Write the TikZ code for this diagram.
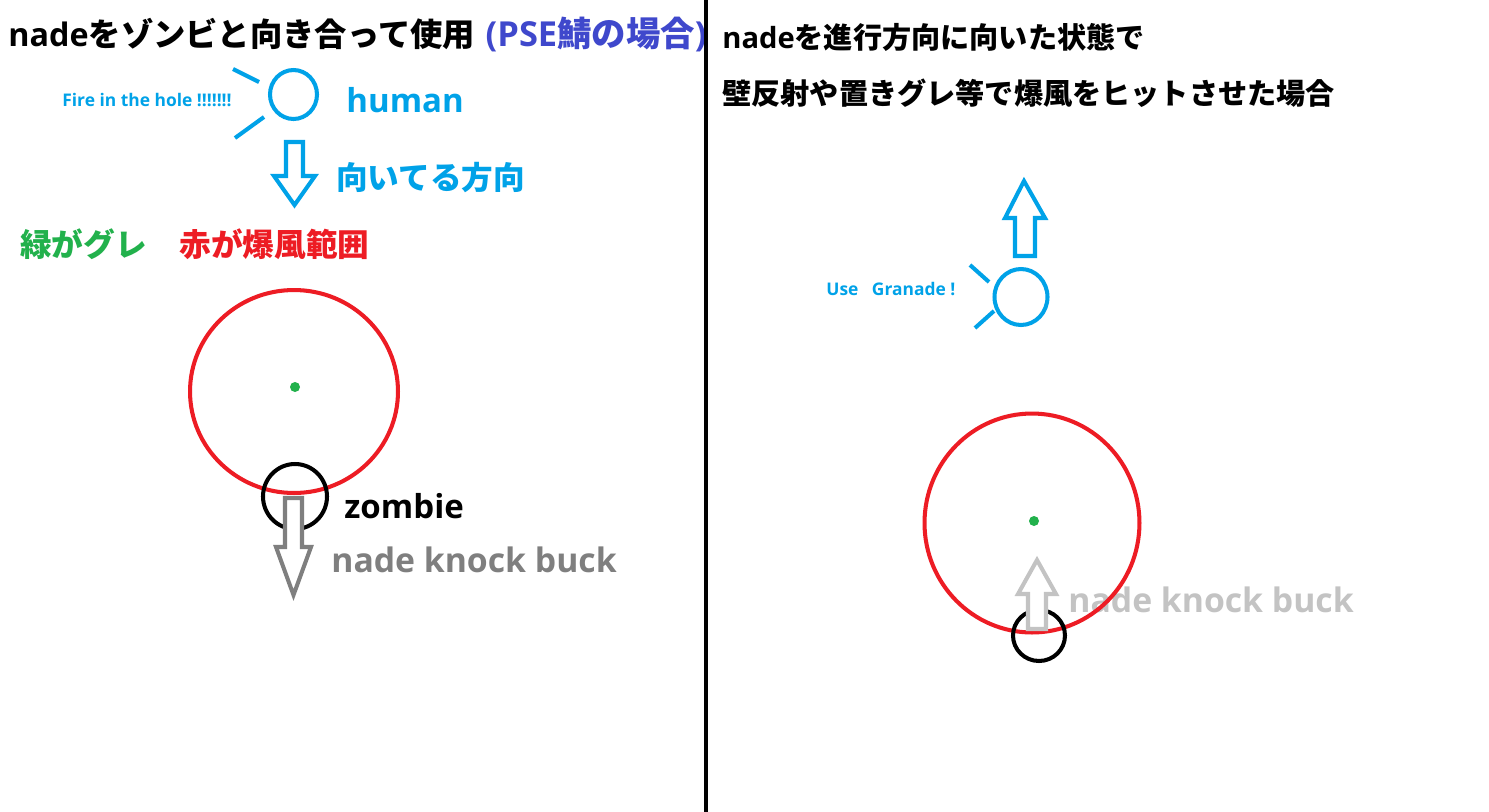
\documentclass[tikz,border=0pt]{standalone}
\usepackage{fontspec}
\setmainfont{Noto Sans CJK JP}
\newfontfamily\latinfont{Open Sans}
\usetikzlibrary{positioning,shapes.geometric}
\definecolor{paintblue}{RGB}{0, 162, 232}
\definecolor{paintred}{RGB}{237, 28, 36}
\definecolor{paintgreen}{RGB}{34, 177, 76}
\definecolor{paintindigo}{RGB}{63, 72, 204}
\definecolor{nadegray}{RGB}{127, 127, 127}
\definecolor{nadesilver}{RGB}{195, 195, 195}

\begin{document}
\begin{tikzpicture}[x=0.02cm, y=-0.02cm,
  heading/.style={anchor=base west, inner sep=0pt, font=\fontsize{18.4}{22}\selectfont\bfseries},
  subheading/.style={anchor=base west, inner sep=0pt, font=\fontsize{16.6}{20}\selectfont\bfseries},
  label/.style={anchor=base west, inner sep=0pt, font=\fontsize{18.8}{23}\selectfont\bfseries\latinfont},
  keytext/.style={anchor=base west, inner sep=0pt, font=\fontsize{18}{22}\selectfont\bfseries},
  shout/.style={anchor=base west, inner sep=0pt, text=paintblue, font=\fontsize{9.9}{12}\selectfont\bfseries\latinfont},
  face/.style={ellipse, draw=paintblue, line width=2.3pt, inner sep=0pt},
  blast/.style={ellipse, draw=paintred, line width=2.3pt, inner sep=0pt},
  zombiebody/.style={ellipse, draw=black, line width=2.3pt, inner sep=0pt},
  nadedot/.style={circle, fill=paintgreen, inner sep=0pt, minimum size=0.2cm},
  ray/.style={draw=paintblue, line width=2.3pt},
  hollow/.style={line width=2.3pt, fill=white}
]
\fill[white] (0,0) rectangle (1489,812);
\useasboundingbox (0,0) rectangle (1489,812);

% left panel
\node[heading] (lefttitle) at (8,46) {{\latinfont nade}をゾンビと向き合って使用};
\node[heading, text=paintindigo, font=\fontsize{19.6}{24}\selectfont\bfseries, base right=0.2cm of lefttitle] (pseserver) {{\latinfont(PSE}鯖の場合{\latinfont)}};
\node[face, minimum width=0.94cm, minimum height=0.98cm] (humanL) at (293.5,94.5) {};
\draw[ray] (233,69) -- (259,82);
\draw[ray] (235,138) -- (264,117);
\node[shout] (firecall) at (62,106) {Fire in the hole !!!!!!!};
\node[label, text=paintblue] (humanlabel) at (346,112) {human};
\draw[hollow, draw=paintblue] (286,142) -- (303,142) -- (303,176) -- (315,176) -- (294.5,205) -- (274,176) -- (286,176) -- cycle;
\node[keytext, text=paintblue] (facing) at (336,189) {向いてる方向};
\node[keytext, text=paintgreen] (greenkey) at (20,256) {緑がグレ};
\node[keytext, text=paintred, base right=0.64cm of greenkey] (redkey) {赤が爆風範囲};
\node[blast, minimum width=4.16cm, minimum height=4.06cm] (blastL) at (294,391.5) {};
\node[nadedot] (nadeL) at (295,387) {};
\node[zombiebody, minimum width=1.28cm, minimum height=1.3cm] (zombieL) at (295,496.5) {};
\draw[hollow, draw=nadegray] (285,498) -- (302,498) -- (302,547) -- (311,547) -- (293.5,595) -- (276,547) -- (285,547) -- cycle;
\node[label] (zombielabel) at (344,518) {zombie};
\node[label, text=nadegray, font=\fontsize{19.2}{23}\selectfont\bfseries\latinfont] (knockL) at (331,572) {nade knock buck};

% right panel
\node[subheading] (righttitle) at (722,48) {{\latinfont nade}を進行方向に向いた状態で};
\node[subheading] (rightsub) at (722,104) {壁反射や置きグレ等で爆風をヒットさせた場合};
\draw[hollow, draw=paintblue] (1024,181) -- (1045,218) -- (1035,218) -- (1035,256) -- (1015,256) -- (1015,218) -- (1005,218) -- cycle;
\node[face, minimum width=1.06cm, minimum height=1.12cm] (humanR) at (1021,297) {};
\draw[ray] (970,265) -- (989,282);
\draw[ray] (975,328) -- (994,311);
\node[shout] (usecall) at (826,295) {Use\ \ \ Granade !};
\node[label, text=nadesilver, font=\fontsize{19.2}{23}\selectfont\bfseries\latinfont] (knockR) at (1068,612) {nade knock buck};
\node[blast, minimum width=4.3cm, minimum height=4.38cm] (blastR) at (1032,523) {};
\node[nadedot] (nadeR) at (1034,521) {};
\node[zombiebody, minimum width=1.04cm, minimum height=1.02cm] (zombieR) at (1039,635.5) {};
\draw[hollow, draw=nadesilver] (1037,560) -- (1056,594) -- (1046,594) -- (1046,629) -- (1028,629) -- (1028,594) -- (1018,594) -- cycle;

% divider
\draw[line width=2.4pt] (706,0) -- (706,812);
\end{tikzpicture}
\end{document}
